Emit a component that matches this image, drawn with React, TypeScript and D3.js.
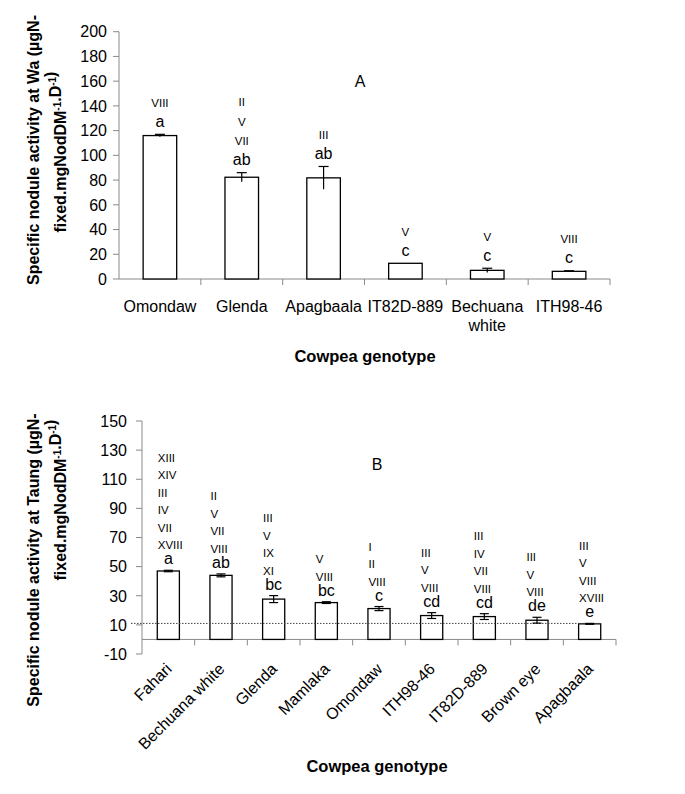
import React from 'react';
import * as d3 from 'd3';

// panel A - Wa
const genotypesA = ['Omondaw', 'Glenda', 'Apagbaala', 'IT82D-889', 'Bechuana white', 'ITH98-46'];
const valuesA = [116, 82.3, 81.8, 12.7, 7, 6.2];
const errorsA = [1, 3.7, 9.2, 0, 1.7, 0.5];
const lettersA = ['a', 'ab', 'ab', 'c', 'c', 'c'];
const romansA = [['VIII'], ['II', 'V', 'VII'], ['III'], ['V'], ['V'], ['VIII']];
const yTicksA = [0, 20, 40, 60, 80, 100, 120, 140, 160, 180, 200];

// panel B - Taung
const genotypesB = ['Fahari', 'Bechuana white', 'Glenda', 'Mamlaka', 'Omondaw', 'ITH98-46', 'IT82D-889', 'Brown eye', 'Apagbaala'];
const valuesB = [47, 44, 27.7, 25.3, 21.2, 16.4, 15.7, 13.2, 10.7];
const errorsB = [0.5, 1, 2.4, 0.6, 1.4, 2, 2, 2, 0.3];
const lettersB = ['a', 'ab', 'bc', 'bc', 'c', 'cd', 'cd', 'de', 'e'];
const romansB = [
  ['XIII', 'XIV', 'III', 'IV', 'VII', 'XVIII'],
  ['II', 'V', 'VII', 'VIII'],
  ['III', 'V', 'IX', 'XI'],
  ['V', 'VIII'],
  ['I', 'II', 'VIII'],
  ['III', 'V', 'VIII'],
  ['III', 'IV', 'VII', 'VIII'],
  ['III', 'V', 'VIII'],
  ['III', 'V', 'VIII', 'XVIII'],
];
const yTicksB = [-10, 10, 30, 50, 70, 90, 110, 130, 150];
const lsdB = 11;

const FONT = "Arial, 'Liberation Sans', sans-serif";
const AXIS = '#8a8a8a';

const App = () => {
  // scales A
  const xA = d3.scaleBand<string>().domain(genotypesA).range([119, 610]);
  const yA = d3.scaleLinear().domain([0, 200]).range([279, 31.7]);
  const bwA = xA.bandwidth() * 0.41;

  // scales B
  const xB = d3.scaleBand<string>().domain(genotypesB).range([142, 616]);
  const yB = d3.scaleLinear().domain([-10, 150]).range([654, 421]);
  const bwB = xB.bandwidth() * 0.42;

  const cxA = (g: string) => (xA(g) ?? 0) + xA.bandwidth() / 2;
  const cxB = (g: string) => (xB(g) ?? 0) + xB.bandwidth() / 2;

  const sup = (s: string) => (
    <>
      <tspan dy={-5} fontSize={10}>{s}</tspan>
      <tspan dy={5}>{''}</tspan>
    </>
  );

  return (
    <div style={{ position: 'absolute', left: 0, top: 0 }}>
      <svg width={685} height={794} style={{ display: 'block', background: '#fff' }} fontFamily={FONT}>
        {/* ---------- Panel A ---------- */}
        <g>
          {/* y axis */}
          <line x1={119} x2={119} y1={yA(200)} y2={yA(0)} stroke={AXIS} />
          {yTicksA.map((t) => (
            <g key={t}>
              <line x1={113} x2={119} y1={yA(t)} y2={yA(t)} stroke={AXIS} />
              <text x={107} y={yA(t)} dy="0.36em" textAnchor="end" fontSize={16}>{t}</text>
            </g>
          ))}
          {/* x axis */}
          <line x1={119} x2={610} y1={yA(0)} y2={yA(0)} stroke={AXIS} />
          {genotypesA.map((g) => (
            <line key={g} x1={(xA(g) ?? 0) + xA.bandwidth()} x2={(xA(g) ?? 0) + xA.bandwidth()} y1={yA(0)} y2={yA(0) + 6} stroke={AXIS} />
          ))}
          {/* bars */}
          {genotypesA.map((g, i) => (
            <rect key={g} x={cxA(g) - bwA / 2} y={yA(valuesA[i])} width={bwA} height={yA(0) - yA(valuesA[i])} fill="#fff" stroke="#000" strokeWidth={1.3} />
          ))}
          {/* error bars (cap on top) */}
          {genotypesA.map((g, i) =>
            errorsA[i] > 0 ? (
              <g key={g} stroke="#000" strokeWidth={1.2}>
                <line x1={cxA(g)} x2={cxA(g)} y1={yA(valuesA[i] - errorsA[i])} y2={yA(valuesA[i] + errorsA[i])} />
                <line x1={cxA(g) - 5} x2={cxA(g) + 5} y1={yA(valuesA[i] + errorsA[i])} y2={yA(valuesA[i] + errorsA[i])} />
              </g>
            ) : null
          )}
          {/* letters + numerals */}
          {genotypesA.map((g, i) => {
            const base = yA(valuesA[i] + errorsA[i]) - 7.5;
            const n = romansA[i].length;
            return (
              <g key={g} textAnchor="middle">
                <text x={cxA(g)} y={base} fontSize={16}>{lettersA[i]}</text>
                {romansA[i].map((r, j) => (
                  <text key={j} x={cxA(g)} y={base - 20 - (n - 1 - j) * 19.5} fontSize={11.5}>{r}</text>
                ))}
              </g>
            );
          })}
          {/* x labels */}
          {genotypesA.map((g) => {
            const parts = g === 'Bechuana white' ? ['Bechuana', 'white'] : [g];
            return (
              <text key={g} x={cxA(g)} y={311.5} textAnchor="middle" fontSize={16}>
                {parts.map((p, j) => (
                  <tspan key={j} x={cxA(g)} dy={j === 0 ? 0 : 19}>{p}</tspan>
                ))}
              </text>
            );
          })}
          <text x={365} y={362} textAnchor="middle" fontSize={16.5} fontWeight="bold">Cowpea genotype</text>
          <text x={360} y={87} textAnchor="middle" fontSize={16}>A</text>
          {/* y title */}
          <text transform="translate(38.5,150) rotate(-90)" textAnchor="middle" fontSize={16} fontWeight="bold">
            Specific nodule activity at Wa (µgN-
          </text>
          <text transform="translate(66,152) rotate(-90)" textAnchor="middle" fontSize={16} fontWeight="bold">
            fixed.mgNodDM{sup('-1')}.D{sup('-1')})
          </text>
        </g>

        {/* ---------- Panel B ---------- */}
        <g>
          <line x1={142} x2={142} y1={yB(150)} y2={yB(-10)} stroke={AXIS} />
          {yTicksB.map((t) => (
            <g key={t}>
              <line x1={136} x2={142} y1={yB(t)} y2={yB(t)} stroke={AXIS} />
              <text x={127} y={yB(t)} dy="0.36em" textAnchor="end" fontSize={16}>{t}</text>
            </g>
          ))}
          <line x1={142} x2={616} y1={yB(0)} y2={yB(0)} stroke={AXIS} />
          {genotypesB.map((g) => (
            <line key={g} x1={(xB(g) ?? 0) + xB.bandwidth()} x2={(xB(g) ?? 0) + xB.bandwidth()} y1={yB(0)} y2={yB(0) + 6} stroke={AXIS} />
          ))}
          {genotypesB.map((g, i) => (
            <rect key={g} x={cxB(g) - bwB / 2} y={yB(valuesB[i])} width={bwB} height={yB(0) - yB(valuesB[i])} fill="#fff" stroke="#000" strokeWidth={1.3} />
          ))}
          {/* LSD dotted line */}
          <line x1={131} x2={cxB('Apagbaala') + bwB / 2} y1={yB(lsdB)} y2={yB(lsdB)} stroke="#444" strokeWidth={1} strokeDasharray="1.5,1.5" />
          {genotypesB.map((g, i) => (
            <g key={g} stroke="#000" strokeWidth={1.2}>
              <line x1={cxB(g)} x2={cxB(g)} y1={yB(valuesB[i] - errorsB[i])} y2={yB(valuesB[i] + errorsB[i])} />
              <line x1={cxB(g) - 4.5} x2={cxB(g) + 4.5} y1={yB(valuesB[i] + errorsB[i])} y2={yB(valuesB[i] + errorsB[i])} />
              <line x1={cxB(g) - 4.5} x2={cxB(g) + 4.5} y1={yB(valuesB[i] - errorsB[i])} y2={yB(valuesB[i] - errorsB[i])} />
            </g>
          ))}
          {genotypesB.map((g, i) => {
            const base = yB(valuesB[i] + errorsB[i]) - 6;
            const n = romansB[i].length;
            return (
              <g key={g}>
                <text x={cxB(g)} y={base} fontSize={16} textAnchor="middle">{lettersB[i]}</text>
                {romansB[i].map((r, j) => (
                  <text key={j} x={cxB(g) - bwB / 2 + 0.5} y={base - 15 - (n - 1 - j) * 17.5} fontSize={11.5}>{r}</text>
                ))}
              </g>
            );
          })}
          {genotypesB.map((g) => (
            <text key={g} transform={`translate(${cxB(g) + 4.5},670) rotate(-45)`} textAnchor="end" fontSize={16}>{g}</text>
          ))}
          <text x={377} y={771.5} textAnchor="middle" fontSize={16.5} fontWeight="bold">Cowpea genotype</text>
          <text x={377} y={470} textAnchor="middle" fontSize={16}>B</text>
          <text transform="translate(38.5,560) rotate(-90)" textAnchor="middle" fontSize={16} fontWeight="bold">
            Specific nodule activity at Taung (µgN-
          </text>
          <text transform="translate(66,500) rotate(-90)" textAnchor="middle" fontSize={16} fontWeight="bold">
            fixed.mgNodDM{sup('-1')}.D{sup('-1')})
          </text>
        </g>
      </svg>
    </div>
  );
};

export default App;
